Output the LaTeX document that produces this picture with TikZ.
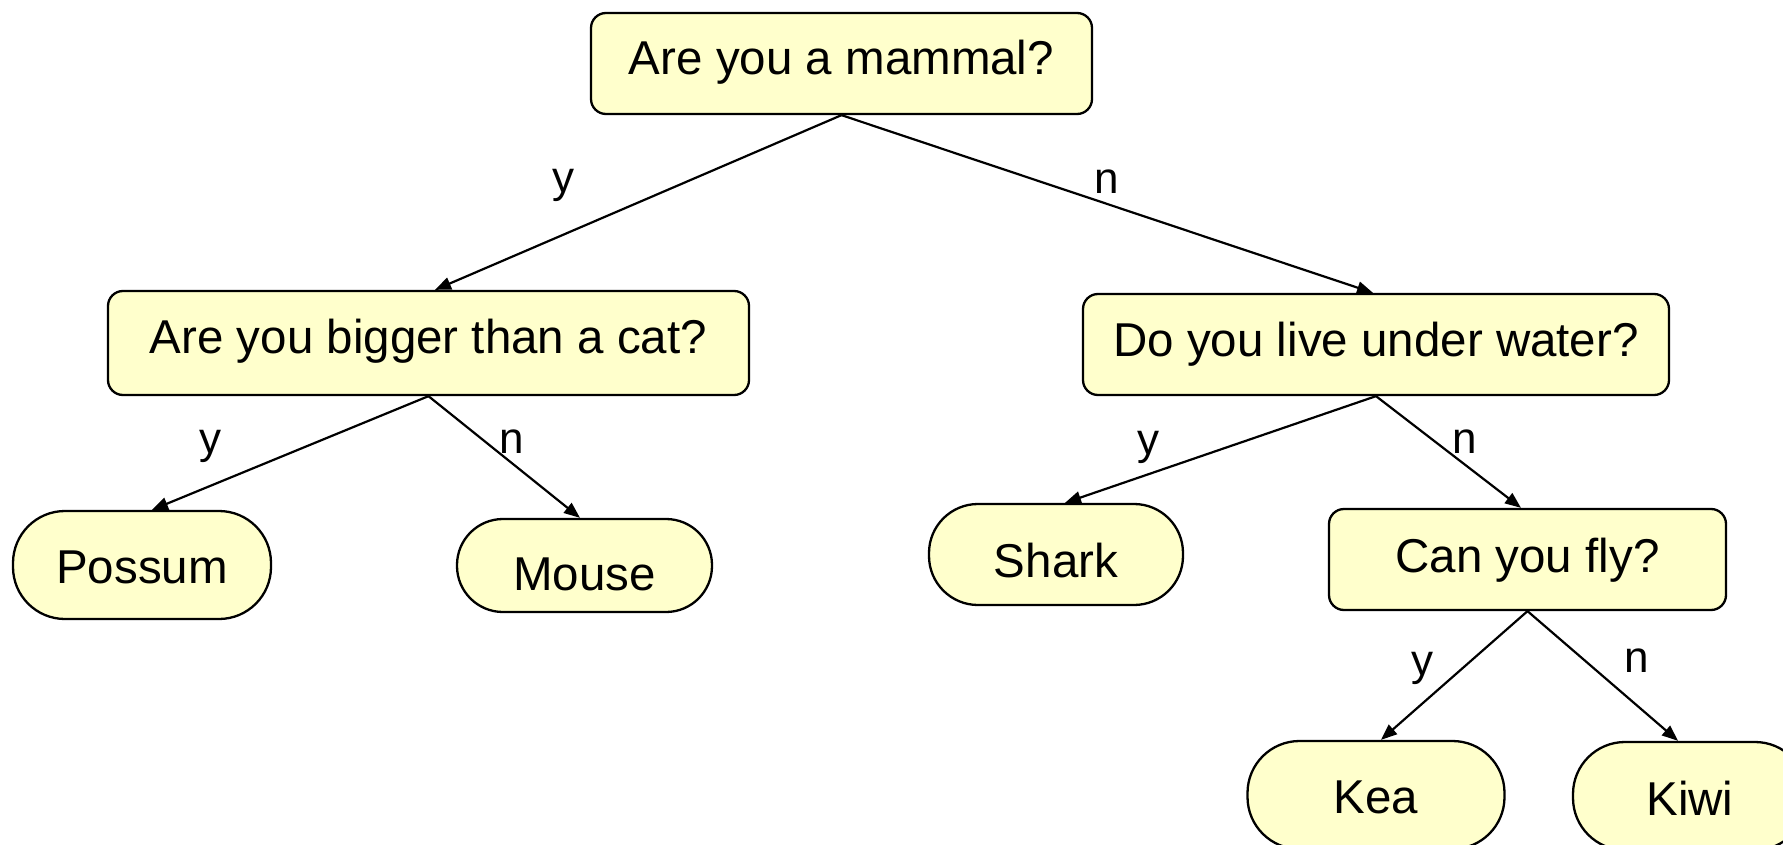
\documentclass[tikz,border=0pt]{standalone}
\usepackage{fontspec}
\setmainfont{Liberation Sans}
\usetikzlibrary{arrows.meta}
\definecolor{boxfill}{RGB}{255,255,204}
\begin{document}
\begin{tikzpicture}[x=1pt,y=-1pt,
  question/.style={draw=black, line width=2.3pt, fill=boxfill, rounded corners=15pt,
    inner sep=0pt, minimum height=101pt, text height=23pt, text depth=0pt,
    font=\fontsize{47.5}{57}\selectfont},
  answer/.style={draw=black, line width=2.3pt, fill=boxfill, rounded corners=52pt,
    inner sep=0pt, minimum height=108pt, text height=37pt, text depth=0pt,
    font=\fontsize{47.5}{57}\selectfont},
  branch/.style={draw=black, line width=2.2pt, -{Triangle[length=16pt,width=12.5pt]}},
  choice/.style={inner sep=0pt, anchor=base, font=\fontsize{44}{52}\selectfont}]

\useasboundingbox (0,0) rectangle (1783,845);

% questions
\node[question, minimum width=501pt] (mammal) at (841.5,63.5) {Are you a mammal?};
\node[question, minimum width=641pt, minimum height=104pt, text height=20pt] (bigger) at (428.5,343) {Are you bigger than a cat?};
\node[question, minimum width=586pt] (water) at (1376,344.5) {Do you live under water?};
\node[question, minimum width=397pt, text height=25pt] (fly) at (1527.5,559.5) {Can you fly?};

% answers
\node[answer, minimum width=258pt] (possum) at (142,565) {Possum};
\node[answer, minimum width=255pt, minimum height=93pt, rounded corners=46pt,
      text height=49pt] (mouse) at (584.5,565.5) {Mouse};
\node[answer, minimum width=254pt, minimum height=101pt, rounded corners=49pt,
      text height=45pt] (shark) at (1056,554.5) {Shark};
\node[answer, minimum width=257pt, text height=36pt] (kea) at (1376,795) {Kea};
\node[answer, minimum width=234pt, text height=38pt] (kiwi) at (1690,796) {Kiwi};

% branches
\draw[branch] (mammal.south) -- ([xshift=6.5pt]bigger.north);
\draw[branch] (mammal.south) -- ([xshift=-3pt]water.north);
\draw[branch] (bigger.south) -- ([xshift=10pt]possum.north);
\draw[branch] (bigger.south) -- ([xshift=-4.5pt]mouse.north);
\draw[branch] (water.south) -- ([xshift=9pt]shark.north);
\draw[branch] (water.south) -- ([xshift=-6.5pt]fly.north);
\draw[branch] (fly.south) -- ([xshift=5pt]kea.north);
\draw[branch] (fly.south) -- ([xshift=-12pt]kiwi.north);

% yes / no labels
\node[choice] (mammal-y) at (563,193) {y};
\node[choice] (mammal-n) at (1107,194) {n};
\node[choice] (bigger-y) at (210,453) {y};
\node[choice] (bigger-n) at (512,453) {n};
\node[choice] (water-y) at (1148,454) {y};
\node[choice] (water-n) at (1465,453) {n};
\node[choice] (fly-y) at (1422,675) {y};
\node[choice] (fly-n) at (1637,672) {n};
\end{tikzpicture}
\end{document}
